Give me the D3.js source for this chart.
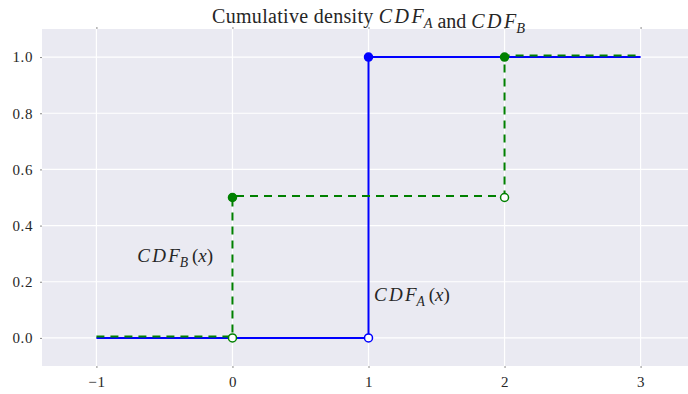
<!DOCTYPE html>
<html>
<head>
<meta charset="utf-8">
<script src="https://cdn.jsdelivr.net/npm/d3@7"></script>
<style>
  body { margin: 0; background: #fff; }
  text { font-family: "Liberation Serif", "DejaVu Serif", serif; fill: #262626; }
</style>
</head>
<body>
<script>
// step points (x, value), drawn as step-after
var xs = [-1, 0, 1, 2, 3];
var cdfA = [0, 0, 1, 1, 1];
var cdfB = [0, 0.5, 0.5, 1, 1];

// jump points
var openA = [[1, 0]];
var filledA = [[1, 1]];
var openB = [[0, 0], [2, 0.5]];
var filledB = [[0, 0.5], [2, 1]];

var xTicks = [-1, 0, 1, 2, 3];
var yTicks = [0, 0.2, 0.4, 0.6, 0.8, 1.0];

var width = 688, height = 394;
var margin = { top: 29, right: -7, bottom: 28, left: 42 };

var svg = d3.select("body").append("svg")
  .attr("width", width)
  .attr("height", height);

var x = d3.scaleLinear().domain([-1.4, 3.4]).range([margin.left, width - margin.right]);
var y = d3.scaleLinear().domain([-0.1, 1.1]).range([height - margin.bottom, margin.top]);

// background
svg.append("rect")
  .attr("x", x(-1.4)).attr("y", y(1.1))
  .attr("width", x(3.4) - x(-1.4))
  .attr("height", y(-0.1) - y(1.1))
  .attr("fill", "#eaeaf2");

// grid
svg.append("g").selectAll("line").data(xTicks).enter().append("line")
  .attr("x1", d => x(d)).attr("x2", d => x(d))
  .attr("y1", y(1.1)).attr("y2", y(-0.1))
  .attr("stroke", "white").attr("stroke-width", 1.2);
svg.append("g").selectAll("line").data(yTicks).enter().append("line")
  .attr("x1", x(-1.4)).attr("x2", x(3.4))
  .attr("y1", d => y(d)).attr("y2", d => y(d))
  .attr("stroke", "white").attr("stroke-width", 1.2);

// axes (tiny ticks, no domain line)
var fmtX = d => d < 0 ? "\u2212" + Math.abs(d) : String(d);
var xAxis = svg.append("g")
  .attr("transform", "translate(0," + y(-0.1) + ")")
  .call(d3.axisBottom(x).tickValues(xTicks).tickFormat(fmtX).tickSize(2).tickPadding(8));
var xAxisTop = svg.append("g")
  .attr("transform", "translate(0," + y(1.1) + ")")
  .call(d3.axisTop(x).tickValues(xTicks).tickFormat("").tickSize(2));
var yAxis = svg.append("g")
  .attr("transform", "translate(" + x(-1.4) + ",0)")
  .call(d3.axisLeft(y).tickValues(yTicks).tickFormat(d3.format(".1f")).tickSize(2).tickPadding(7));

[xAxis, xAxisTop, yAxis].forEach(function (g) {
  g.attr("font-family", null).attr("font-size", null);
  g.select(".domain").remove();
  g.selectAll(".tick line").attr("stroke", "#8a8a8a").attr("stroke-width", 1);
  g.selectAll("text")
    .style("font-family", "'Liberation Serif', serif")
    .style("font-size", "15px")
    .style("letter-spacing", "0.6px")
    .attr("fill", "#262626");
});

// lines
var line = d3.line()
  .x(d => x(d[0]))
  .y(d => y(d[1]))
  .curve(d3.curveStepAfter);

svg.append("path")
  .datum(xs.map((v, i) => [v, cdfA[i]]))
  .attr("d", line)
  .attr("fill", "none")
  .attr("stroke", "#0000ff")
  .attr("stroke-width", 2);

svg.append("path")
  .datum(xs.map((v, i) => [v, cdfB[i]]))
  .attr("d", line)
  .attr("transform", "translate(0,-1.5)")
  .attr("fill", "none")
  .attr("stroke", "#008000")
  .attr("stroke-width", 2)
  .attr("stroke-dasharray", "8,6");

// markers
function dots(data, color, filled) {
  svg.append("g").selectAll("circle").data(data).enter().append("circle")
    .attr("cx", d => x(d[0]))
    .attr("cy", d => y(d[1]))
    .attr("r", 4)
    .attr("fill", filled ? color : "white")
    .attr("stroke", color)
    .attr("stroke-width", 1.5);
}
dots(openB, "#008000", false);
dots(filledB, "#008000", true);
dots(openA, "#0000ff", false);
dots(filledA, "#0000ff", true);

// math-like labels
function mathLabel(g, sub, suffix, size) {
  g.append("tspan").style("font-style", "italic")
    .style("letter-spacing", (size * 0.12) + "px").text("CD");
  g.append("tspan").style("font-style", "italic").text("F");
  g.append("tspan").style("font-style", "italic")
    .style("font-size", (size * 0.72) + "px")
    .attr("dy", size * 0.25).text(sub);
  var s = g.append("tspan").attr("dy", -size * 0.25);
  if (suffix) {
    s.text("\u2009(");
    g.append("tspan").style("font-style", "italic").text("x");
    g.append("tspan").text(")");
  }
}

var labelB = svg.append("text").attr("x", x(-0.7)).attr("y", y(0.27)).style("font-size", "19px");
mathLabel(labelB, "B", true, 19);
var labelA = svg.append("text").attr("x", x(1.04)).attr("y", y(0.13)).style("font-size", "19px");
mathLabel(labelA, "A", true, 19);

// title
var title = svg.append("text")
  .attr("x", (x(-1.4) + x(3.4)) / 2)
  .attr("y", 23)
  .attr("text-anchor", "middle")
  .style("font-size", "20px");
title.append("tspan").style("letter-spacing", "0.3px").text("Cumulative density ");
mathLabel(title, "A", false, 20);
title.append("tspan").text(" and ");
mathLabel(title, "B", false, 20);
</script>
</body>
</html>
